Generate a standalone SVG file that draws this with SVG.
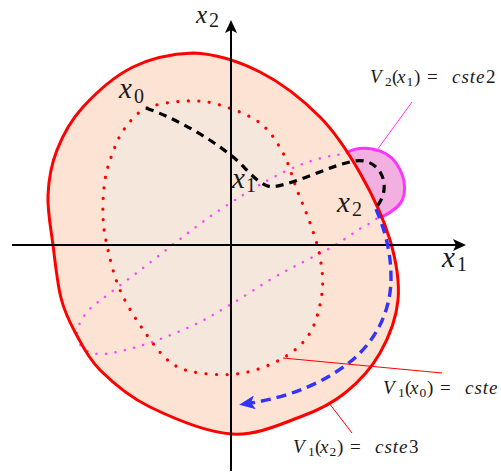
<svg xmlns="http://www.w3.org/2000/svg" width="501" height="472" viewBox="0 0 501 472">
<style>
text{font-family:"Liberation Serif","Times New Roman",serif;fill:#1a1a1a}
.it{font-style:italic}
.big{font-size:29px}
.sub{font-size:20px}
.lab{font-size:19px}
.lsub{font-size:13.5px}
.redline{stroke:#ff0000;stroke-width:1;fill:none}
</style>
<defs>
<path id="outer-curve" d="M193,53 C214.2,53.8 238.8,61.3 260,72 C281.2,82.7 303.3,100.2 320,117 C336.7,133.8 348.3,152.5 360,173 C371.7,193.5 383.7,218.8 390,240 C396.3,261.2 399.7,281.2 398,300 C396.3,318.8 388.8,337.5 380,353 C371.2,368.5 358.3,382.3 345,393 C331.7,403.7 318.8,410.2 300,417 C281.2,423.8 257,435.7 232,434 C207,432.3 172,417.7 150,407 C128,396.3 112.5,382.5 100,370 C87.5,357.5 81.5,344 75,332 C68.5,320 64.7,312.5 61,298 C57.3,283.5 55.2,262.2 53,245 C50.8,227.8 47.3,210.8 48,195 C48.7,179.2 51.2,164.7 57,150 C62.8,135.3 70.3,120.8 83,107 C95.7,93.2 114.7,76 133,67 C151.3,58 171.8,53.8 193,53 Z"/>
<path id="inner-curve" d="M147,108 C157.3,103.5 174.8,101.5 187,101 C199.2,100.5 207.8,101.3 220,105 C232.2,108.7 249.5,115 260,123 C270.5,131 276.8,141.8 283,153 C289.2,164.2 292.5,178.3 297,190 C301.5,201.7 306.2,211.8 310,223 C313.8,234.2 318,245.3 320,257 C322,268.7 323.7,280.3 322,293 C320.3,305.7 316.5,322.2 310,333 C303.5,343.8 294.2,351.3 283,358 C271.8,364.7 256.8,370.5 243,373 C229.2,375.5 212.2,374.8 200,373 C187.8,371.2 179.7,369.5 170,362 C160.3,354.5 150.3,340 142,328 C133.7,316 125.7,303 120,290 C114.3,277 110.8,262.2 108,250 C105.2,237.8 103.5,228.7 103,217 C102.5,205.3 103.3,190.8 105,180 C106.7,169.2 109.7,160.7 113,152 C116.3,143.3 119.3,135.3 125,128 C130.7,120.7 136.7,112.5 147,108 Z"/>
<marker id="axarrow" viewBox="0 0 13 12" refX="3" refY="6" markerWidth="13" markerHeight="12" markerUnits="userSpaceOnUse" orient="auto">
<path d="M0,0 L13,6 L0,12 L3,6 Z" fill="#000"/>
</marker>
<marker id="bluearrow" viewBox="0 0 16 14" refX="4" refY="7" markerWidth="16" markerHeight="14" markerUnits="userSpaceOnUse" orient="auto">
<path d="M16,7 L0,0 L4,7 L0,14 Z" fill="#3333ff"/>
</marker>
</defs>
<rect width="501" height="472" fill="#ffffff"/>

<g id="outer-region">
<use href="#outer-curve" fill="#fce3d3" stroke="none"/>
</g>

<g id="inner-region">
<use href="#inner-curve" fill="#f5e7db" stroke="none"/>
</g>

<g id="level-ellipse">
<path d="M77,333 C77.5,326.8 81.5,318.7 87,312 C92.5,305.3 100.7,300.3 110,293 C119.3,285.7 132.2,276.3 143,268 C153.8,259.7 164.2,251.3 175,243 C185.8,234.7 196.7,226 208,218 C219.3,210 232.3,201.7 243,195 C253.7,188.3 261.7,183.3 272,178 C282.3,172.7 294.2,166.8 305,163 C315.8,159.2 327,156.5 337,155 C347,153.5 356.5,150.2 365,154 C373.5,157.8 385.5,168 388,178 C390.5,188 385,205.3 380,214 C375,222.7 366,224.5 358,230 C350,235.5 340.8,241.8 332,247 C323.2,252.2 314.8,255.8 305,261 C295.2,266.2 285,271 273,278 C261,285 245.5,295.5 233,303 C220.5,310.5 209.7,317.2 198,323 C186.3,328.8 173.8,333.8 163,338 C152.2,342.2 143,345.3 133,348 C123,350.7 111.2,353.8 103,354 C94.8,354.2 88.3,352.5 84,349 C79.7,345.5 76.5,339.2 77,333 Z" fill="none" stroke="#ff44ff" stroke-width="2.5" stroke-linecap="round" stroke-dasharray="0.1 9.4"/>
</g>

<g id="inner-dotted">
<use href="#inner-curve" fill="none" stroke="#ff0000" stroke-width="3.2" stroke-linecap="round" stroke-dasharray="0.1 10.4"/>
</g>

<g id="v2-region">
<path d="M347,151 C360,145 385,147 396,163 C407,179 408,198 396,208 C391,212 386,215 381,217 L377,206 L370,192 L360,173 L351,158 Z" fill="#f2b0e0"/>
<path d="M346,153 C360,145 385,147 396,163 C407,179 408,198 396,208 C391,212 386,215 380,218" fill="none" stroke="#ff33ff" stroke-width="3"/>
</g>

<g id="outer-boundary">
<use href="#outer-curve" fill="none" stroke="#ff0000" stroke-width="3"/>
</g>

<g id="axes">
<line x1="12" y1="245" x2="456" y2="245" stroke="#000" stroke-width="2" marker-end="url(#axarrow)"/>
<line x1="231" y1="471" x2="231" y2="30" stroke="#000" stroke-width="2" marker-end="url(#axarrow)"/>
</g>

<g id="connectors">
<path id="traj-black" d="M146,108 C185,122 220,145 240,163 C252,176 262,186 272,187 C300,183 330,165 355,161 C372,158 386,172 384,190 C383,198 379,204 375,209" fill="none" stroke="#000" stroke-width="3.2" stroke-dasharray="8 6"/>
<path id="traj-blue" d="M376,209 C384,228 391,250 391,278 C391,310 377,340 350,362 C325,382 290,397 251,403" fill="none" stroke="#3333ff" stroke-width="3.4" stroke-dasharray="10 6" marker-end="url(#bluearrow)"/>
<line x1="412" y1="102" x2="377" y2="150" stroke="#ff33ff" stroke-width="1"/>
<line class="redline" x1="283" y1="358" x2="442" y2="373"/>
<line class="redline" x1="329" y1="403" x2="352" y2="433"/>
</g>

<g id="label-axis-x2">
<text class="it" font-size="25" x="196" y="23">x</text><text class="sub" font-size="19" x="209" y="27">2</text>
</g>
<g id="label-axis-x1">
<text class="it big" x="442" y="267">x</text><text class="sub" x="457" y="271">1</text>
</g>
<g id="label-x0">
<text class="it big" x="119" y="98">x</text><text class="sub" x="134" y="103">0</text>
</g>
<g id="label-x1">
<text class="it big" x="232" y="188">x</text><text class="sub" x="246" y="192">1</text>
</g>
<g id="label-x2">
<text class="it big" x="337" y="212">x</text><text class="sub" x="352" y="216">2</text>
</g>

<g id="label-v2">
<text class="lab it" x="370" y="83">V</text><text class="lsub" x="385" y="86">2</text><text class="lab" x="392" y="83">(</text><text class="lab it" x="397" y="83">x</text><text class="lsub" x="406.5" y="86">1</text><text class="lab" x="414" y="83">)</text><text class="lab" x="427" y="83">=</text><text class="lab it" x="452" y="83" letter-spacing="1">cste</text><text class="lab" x="486" y="83">2</text>
</g>
<g id="label-v1x0">
<text class="lab it" x="383" y="394">V</text><text class="lsub" x="398" y="397">1</text><text class="lab" x="405" y="394">(</text><text class="lab it" x="410" y="394">x</text><text class="lsub" x="419.5" y="397">0</text><text class="lab" x="427" y="394">)</text><text class="lab" x="440" y="394">=</text><text class="lab it" x="465" y="394" letter-spacing="1">cste</text>
</g>
<g id="label-v1x2">
<text class="lab it" x="293" y="453">V</text><text class="lsub" x="308" y="456">1</text><text class="lab" x="315" y="453">(</text><text class="lab it" x="320" y="453">x</text><text class="lsub" x="329.5" y="456">2</text><text class="lab" x="337" y="453">)</text><text class="lab" x="350" y="453">=</text><text class="lab it" x="375" y="453" letter-spacing="1">cste</text><text class="lab" x="409" y="453">3</text>
</g>
</svg>
